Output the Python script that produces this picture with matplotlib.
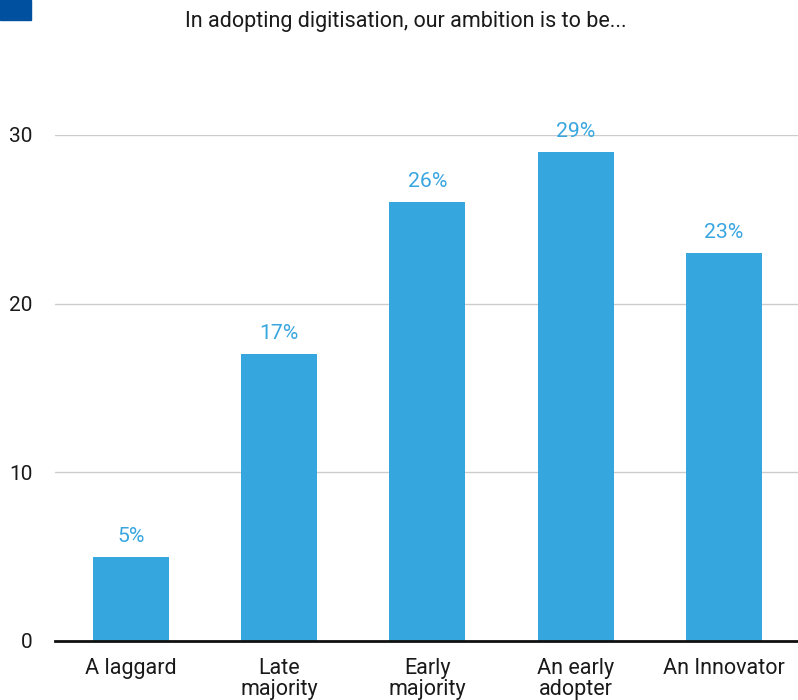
import matplotlib
matplotlib.use("Agg")
import matplotlib.pyplot as plt
from matplotlib.patches import Rectangle

categories = ["A laggard", "Late\nmajority", "Early\nmajority", "An early\nadopter", "An Innovator"]
values = [5, 17, 26, 29, 23]
value_labels = ["5%", "17%", "26%", "29%", "23%"]
y_ticks = [0, 10, 20, 30]
title = "In adopting digitisation, our ambition is to be..."

plt.rcParams["font.family"] = ["Roboto", "DejaVu Sans"]

bar_color = "#35a6de"
label_color = "#3aa6e0"
text_color = "#1a1a1a"

fig = plt.figure(figsize=(7.98, 7.0), dpi=100)
ax = fig.add_axes([55 / 798, 59 / 700, 743 / 798, 506 / 700])

x = list(range(len(categories)))
ax.bar(x, values, width=0.513, color=bar_color, zorder=3)

for xi, v, lab in zip(x, values, value_labels):
    ax.annotate(lab, (xi, v), xytext=(0, 8), textcoords="offset points",
                ha="center", va="bottom", color=label_color, fontsize=15.3,
                annotation_clip=False)

ax.set_xlim(-0.513, 4.5)
ax.set_ylim(0, 30)
ax.set_yticks(y_ticks)
ax.set_yticklabels([str(t) for t in y_ticks], fontsize=15, color=text_color)
ax.set_xticks(x)
ax.set_xticklabels(categories, fontsize=15.5, color=text_color, linespacing=1.02, va="top")
ax.tick_params(axis="y", length=0, pad=16)
ax.tick_params(axis="x", length=0, pad=12)

ax.grid(axis="y", color="#cccccc", linewidth=1.0, zorder=0)
ax.grid(axis="x", visible=False)
for side in ("top", "right", "left"):
    ax.spines[side].set_visible(False)
ax.spines["bottom"].set_linewidth(2.0)
ax.spines["bottom"].set_color("#111111")
ax.spines["bottom"].set_zorder(4)
ax.set_axisbelow(True)

fig.text(406 / 798, 1 - 22 / 700, title, ha="center", va="center",
         fontsize=15.5, color=text_color)

fig.patches.append(Rectangle((0, 1 - 20 / 700), 31 / 798, 20 / 700,
                             transform=fig.transFigure, color="#0050a0",
                             figure=fig))

fig.savefig("out.png", dpi=100)
